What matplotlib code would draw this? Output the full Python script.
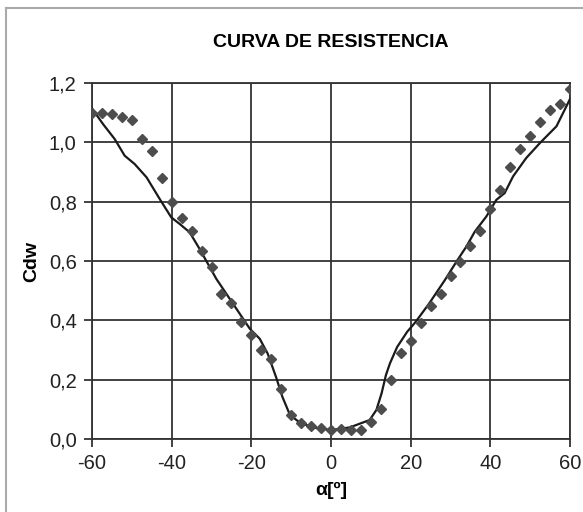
import matplotlib
matplotlib.use("Agg")
import matplotlib.pyplot as plt
from matplotlib.lines import Line2D
import numpy as np

# measured points (diamonds), every 2.5 deg
alpha_pts = np.arange(-60, 60.1, 2.5)
cdw_pts = [1.10, 1.10, 1.095, 1.085, 1.075, 1.01, 0.97, 0.88, 0.80, 0.745,
           0.70, 0.635, 0.58, 0.49, 0.46, 0.395, 0.35, 0.30, 0.27, 0.17,
           0.08, 0.053, 0.044, 0.036, 0.030, 0.033, 0.030, 0.030, 0.058, 0.10,
           0.20, 0.29, 0.33, 0.39, 0.45, 0.49, 0.55, 0.596, 0.652, 0.70,
           0.774, 0.84, 0.916, 0.976, 1.02, 1.068, 1.109, 1.128, 1.18]

# computed curve
alpha_line = [-60, -57.2, -54.3, -51.8, -49.3, -46.3, -43, -40.1, -38, -35.5,
              -33, -28.8, -24.6, -20.4, -17.9, -15.9, -13.8, -12.2, -10.3, -7.8,
              -4.5, 0, 4.7, 9.7, 11.4, 12.7, 13.8, 14.8, 16.6, 19.1,
              21.2, 24.6, 28.6, 31.5, 34, 36.1, 39, 41.5, 43.6, 45.7,
              49, 52.4, 56.6, 60]
cdw_line = [1.114, 1.061, 1.011, 0.955, 0.927, 0.882, 0.809, 0.747, 0.725, 0.697,
            0.641, 0.540, 0.456, 0.372, 0.338, 0.288, 0.209, 0.142, 0.081, 0.055,
            0.039, 0.030, 0.039, 0.064, 0.098, 0.154, 0.216, 0.255, 0.31, 0.361,
            0.394, 0.456, 0.536, 0.598, 0.649, 0.699, 0.75, 0.806, 0.829, 0.885,
            0.947, 0.997, 1.054, 1.146]

xticks = [-60, -40, -20, 0, 20, 40, 60]
yticks = [0.0, 0.2, 0.4, 0.6, 0.8, 1.0, 1.2]

plt.rcParams['font.family'] = ['Liberation Sans', 'DejaVu Sans']

W, H = 583, 512
fig = plt.figure(figsize=(W / 100, H / 100), dpi=100)
ax = fig.add_axes([92 / W, 1 - 439 / H, (570 - 92) / W, (439 - 83) / H])

ax.plot(alpha_line, cdw_line, color='#1a1a1a', lw=1.6, zorder=3)
ax.plot(alpha_pts, cdw_pts, linestyle='none', marker='D', ms=5,
        color='#4d4d4d', mec='#4d4d4d', zorder=4)

ax.set_xlim(-60, 60)
ax.set_ylim(0, 1.2)
ax.set_xticks(xticks)
ax.set_yticks(yticks)
ax.set_xticklabels([str(t) for t in xticks])
ax.set_yticklabels([f"{t:.1f}".replace('.', ',') for t in yticks])
ax.grid(True, color='#333333', lw=1.3)
ax.set_axisbelow(True)
for s in ax.spines.values():
    s.set_color('#333333')
    s.set_linewidth(1.3)
ax.tick_params(direction='out', length=6, width=1.3, color='#333333',
               labelsize=14.5, pad=5, labelcolor='#222222')

ax.set_title("CURVA DE RESISTENCIA", fontsize=14, fontweight='bold', pad=26)
ax.set_xlabel("α[º]", fontsize=14, fontweight='bold', labelpad=6)
ax.set_ylabel("Cdw", fontsize=14, fontweight='bold', labelpad=6)

# outer chart frame (left and top visible)
fig.add_artist(Line2D([6 / W, 6 / W], [0, 1 - 8 / H], color='#aaaaaa', lw=1.5))
fig.add_artist(Line2D([6 / W, 1], [1 - 8 / H, 1 - 8 / H], color='#aaaaaa', lw=1.5))

fig.savefig("out.png", dpi=100)
